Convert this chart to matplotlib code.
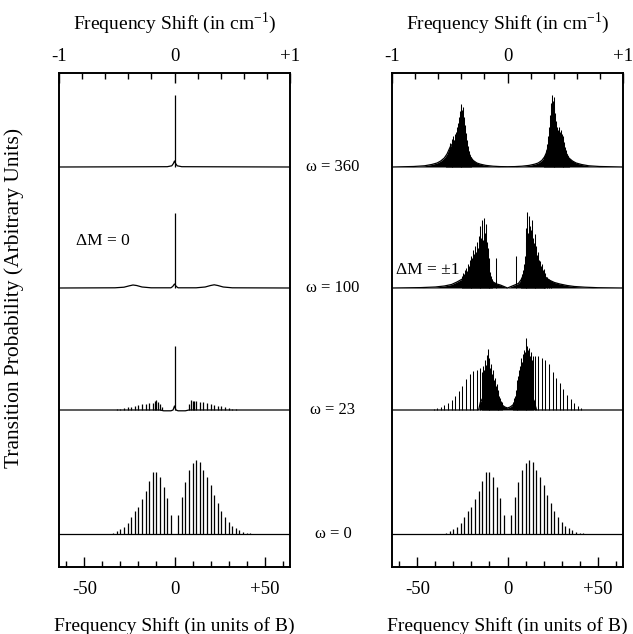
import numpy as np
import matplotlib
matplotlib.use('Agg')
import matplotlib.pyplot as plt

plt.rcParams['font.family'] = ['Liberation Serif', 'DejaVu Serif']
plt.rcParams['mathtext.fontset'] = 'custom'
plt.rcParams['mathtext.rm'] = 'Liberation Serif'

# ---------------- data (heights in arbitrary units, positions in units of B) -------------
omega_labels = ['ω = 0', 'ω = 23', 'ω = 100', 'ω = 360']
trace_offsets = [33, 157, 279, 400]

# omega = 0 : identical stick spectrum in both panels
w0_pos = [-34, -32, -30, -28, -26, -24, -22, -20, -18, -16, -14, -12, -10, -8, -6, -4, -2,
          2, 4, 6, 8, 10, 12, 14, 16, 18, 20, 22, 24, 26, 28, 30, 32, 34, 36, 38, 40, 42]
w0_h = [1.3, 3, 4.7, 7.3, 10.7, 16.7, 22.7, 27.3, 35, 42.7, 53, 62, 62, 56.7, 46.7, 36, 19,
        19, 37, 52, 64, 71, 74, 72, 64, 57, 49, 39, 31, 23, 17, 12, 8.3, 5.7, 4, 2.3, 1.3, 0.7]

# ----- left panel (Delta M = 0)
L23_pos = [-34, -32, -30, -28, -26, -24, -22, -20, -18, -16, -14, -12, -11, -10, -9, -8, -7,
           8, 9, 10, 11, 12, 14, 16, 18, 20, 22, 24, 26, 28, 30, 32, 34, 36]
L23_h = [0.5, 0.9, 1.4, 2, 2.8, 3.5, 4.3, 5, 5.8, 6.3, 6.8, 7.5, 9, 10, 8.5, 6, 3.5,
         6, 10, 9, 9.5, 9, 8.5, 8, 7, 6, 5.2, 4.5, 3.6, 2.8, 2, 1.4, 0.8, 0.4]
L23_base_x = [-64, -8, -6, -2, -0.8, 0, 0.8, 2, 6, 8, 64]
L23_base_y = [0, 0, -0.8, -0.8, 0, 4, 0, -0.8, -0.8, 0, 0]
L23_spike = [0, 64]

L100_base_x = [-64, -33, -28, -25, -23, -21, -18, -13, -2, -1, 0, 1, 2,
               12, 17, 20, 22, 24, 27, 32, 64]
L100_base_y = [0, 0.2, 0.8, 2.2, 3, 2.5, 1, 0.2, 0.2, 1.5, 4, 1.5, 0.2,
               0.2, 1, 2.5, 3.2, 2.5, 1, 0.2, 0]
L100_spike = [0, 75]

L360_base_x = [-64, -4, -1.5, -0.6, 0, 0.6, 1.5, 4, 64]
L360_base_y = [0, 0.3, 1.2, 3.5, 6, 3.5, 1.2, 0.3, 0]
L360_spike = [0.3, 72]

# ----- right panel (Delta M = +-1)
R23_body_x = [-64, -16, -15, -13, -11, -9, -7, -5, -3, -1.5, 0, 1.5, 3, 5, 7, 9, 11, 13, 15, 16, 64]
R23_body_y = [0, 0, 8, 14, 18, 18, 14, 9, 5, 3, 2, 3, 5, 10, 16, 20, 20, 16, 8, 0, 0]
R23_pos = [-41, -39, -37, -35, -33, -31, -29, -27, -25, -23, -21, -19, -17, -15,
           -14, -13.5, -13, -12.5, -12, -11.5, -11, -10.5, -10, -9.5, -9, -8.5, -8, -7.5, -7,
           -6.5, -6, -5.5, -5, -4.5, -4, -3.5, -3,
           3, 3.5, 4, 4.5, 5, 5.5, 6, 6.5, 7, 7.5, 8, 8.5, 9, 9.5, 10, 10.5, 11, 11.5, 12,
           12.5, 13, 13.5, 14,
           15, 17, 19, 21, 23, 25, 27, 29, 31, 33, 35, 37, 39, 41]
R23_h = [1, 2, 3, 5, 7, 10, 14, 19, 24, 31, 36, 39, 40, 42,
         38, 44, 40, 50, 45, 55, 61, 48, 52, 42, 46, 36, 40, 30, 32,
         24, 26, 18, 20, 14, 12, 9, 8,
         8, 12, 14, 20, 24, 30, 34, 40, 44, 52, 48, 56, 60, 58, 72, 55, 64, 60, 62,
         54, 58, 50, 54,
         54, 54, 52, 50, 46, 38, 32, 27, 21, 15, 11, 7, 4, 2]

R100_body_x = [-64, -48, -40, -35, -31, -28, -25, -23, -21, -19, -17, -15, -13, -11, -9, -8,
               -6, -4, -2, 0, 2, 4, 6, 7.5, 9, 11, 13, 15, 17, 19, 21, 23, 26, 29, 33, 37,
               43, 50, 64]
R100_body_y = [0, 0.4, 1, 2, 3.5, 6, 9, 13, 16, 18, 20, 22, 21, 16, 9, 6,
               4, 3, 1.5, 0, 1.5, 3, 4.5, 8, 14, 20, 23, 22, 19, 15, 11, 8, 5.5, 4, 2.5, 1.5,
               0.8, 0.3, 0]
R100_pos = [-25, -24.5, -24, -23.5, -23, -22.5, -22, -21.5, -21, -20.5, -20, -19.5, -19,
            -18.5, -18, -17.5, -17, -16.5, -16, -15.5, -15, -14.5, -14, -13.5, -13, -12.5,
            -12, -11.5, -11, -10.5, -10, -9.5, -9, -8.5, -6.5,
            4.5, 7.5, 8, 8.5, 9, 9.5, 10, 10.5, 11, 11.5, 12, 12.5, 13, 13.5, 14, 14.5, 15,
            15.5, 16, 16.5, 17, 17.5, 18, 18.5, 19, 19.5, 20, 20.5, 21, 22, 23, 24]
R100_h = [12, 15, 14, 18, 20, 17, 24, 22, 28, 25, 32, 30, 38,
          34, 42, 36, 46, 40, 52, 45, 62, 50, 68, 48, 70, 55,
          64, 46, 40, 30, 24, 16, 12, 9, 30,
          32, 10, 14, 18, 24, 32, 46, 60, 76, 55, 72, 62, 58, 68, 50, 45, 54,
          38, 42, 33, 36, 28, 27, 22, 24, 18, 19, 14, 15, 11, 9, 7]

R360_body_x = [-64, -52, -46, -42, -39, -37, -35, -33.5, -32.5, -31.5, -30.5, -29.5, -28.5,
               -27.5, -26.5, -25.5, -24.5, -23.5, -22.5, -21.5, -20.5, -19, -17, -15, -12, -8,
               -4, 0,
               4, 8, 12, 15, 17, 19, 20.5, 21.5, 22.5, 23.5, 24.5, 25.5, 26.5, 27.5, 28.5,
               29.5, 30.5, 31.5, 32.5, 34, 36, 38, 41, 45, 51, 64]
R360_body_y = [0, 0.5, 1.2, 2.5, 4, 6, 9, 13, 17, 21, 23, 25, 27,
               30, 33, 35, 33, 28, 21, 15, 10, 6.5, 4, 2.8, 1.6, 0.8,
               0.4, 0.3,
               0.4, 0.8, 1.6, 2.8, 4, 6.5, 10, 14, 20, 29, 37, 39, 35, 30, 27,
               25, 22, 18, 14, 9, 6, 4, 2.5, 1.2, 0.5, 0]
R360_pos = [-34, -33.5, -33, -32.5, -32, -31.5, -31, -30.5, -30, -29.5, -29, -28.5, -28,
            -27.5, -27, -26.5, -26, -25.5, -25, -24.5, -24, -23.5, -23, -22.5, -22, -21.5,
            -21, -20.5,
            20.5, 21, 21.5, 22, 22.5, 23, 23.5, 24, 24.5, 25, 25.5, 26, 26.5, 27, 27.5, 28,
            28.5, 29, 29.5, 30, 30.5, 31, 31.5, 32, 32.5, 33, 33.5, 34]
R360_h = [10, 12, 15, 18, 24, 20, 28, 26, 31, 27, 33, 35, 40,
          44, 50, 56, 61, 63, 57, 60, 50, 42, 34, 27, 21, 16,
          12, 10,
          11, 13, 17, 23, 31, 40, 52, 64, 72, 66, 70, 60, 54, 46, 40, 37,
          40, 35, 37, 33, 31, 27, 25, 20, 17, 13, 11, 9]

# ---------------- layout -------------
W, H = 633, 634
fig = plt.figure(figsize=(W / 100, H / 100), dpi=100)

def fx(px):
    return px / W

def fy(py):
    return 1 - py / H

top_px, bot_px = 73, 567
axL = fig.add_axes([fx(59), fy(bot_px), fx(290 - 59), (bot_px - top_px) / H])
axR = fig.add_axes([fx(392), fy(bot_px), fx(623 - 392), (bot_px - top_px) / H])

LW = 0.9
SLW = 0.75
FS = 13.5

def style(ax):
    ax.set_xlim(-64, 64)
    ax.set_ylim(0, bot_px - top_px)
    ax.set_yticks([])
    for s in ax.spines.values():
        s.set_linewidth(1.2)
    ax.set_xticks([-50, 0, 50])
    ax.set_xticklabels(['-50', '0', '+50'], fontsize=FS)
    ax.set_xticks(np.arange(-60, 61, 10), minor=True)
    ax.tick_params(axis='x', which='major', direction='in', length=7, width=1, pad=10)
    ax.tick_params(axis='x', which='minor', direction='in', length=4, width=1)
    top = ax.twiny()
    top.set_xlim(-1, 1)
    top.set_xticks([-1, 0, 1])
    top.set_xticklabels(['-1', '0', '+1'], fontsize=FS)
    top.set_xticks(np.arange(-0.8, 0.81, 0.2), minor=True)
    top.tick_params(axis='x', which='major', direction='in', length=7, width=1, pad=6)
    top.tick_params(axis='x', which='minor', direction='in', length=4, width=1)
    for s in top.spines.values():
        s.set_linewidth(1.2)

def sticks(ax, pos, h, off, lw=LW):
    ax.vlines(pos, off, off + np.asarray(h, float), color='k', lw=lw)

def line(ax, x, y, off, fill=False):
    y = np.asarray(y, float)
    if fill:
        ax.fill_between(x, off, off + y, color='k', lw=0)
    ax.plot(x, off + y, color='k', lw=LW)

style(axL)
style(axR)

o0, o23, o100, o360 = trace_offsets

# left
line(axL, [-64, 64], [0, 0], o0)
sticks(axL, w0_pos, w0_h, o0)
line(axL, L23_base_x, L23_base_y, o23)
sticks(axL, L23_pos, L23_h, o23)
sticks(axL, [L23_spike[0]], [L23_spike[1]], o23)
line(axL, L100_base_x, L100_base_y, o100)
sticks(axL, [L100_spike[0]], [L100_spike[1]], o100)
line(axL, L360_base_x, L360_base_y, o360)
sticks(axL, [L360_spike[0]], [L360_spike[1]], o360)

# right
line(axR, [-64, 64], [0, 0], o0)
sticks(axR, w0_pos, w0_h, o0)
line(axR, R23_body_x, R23_body_y, o23, fill=True)
sticks(axR, R23_pos, R23_h, o23, lw=SLW)
line(axR, R100_body_x, R100_body_y, o100, fill=True)
sticks(axR, R100_pos, R100_h, o100, lw=SLW)
line(axR, R360_body_x, R360_body_y, o360, fill=True)
sticks(axR, R360_pos, R360_h, o360, lw=SLW)

# texts
title = 'Frequency Shift (in cm$^{\\mathrm{-1}}$)'
fig.text(fx(174.5), fy(23), title, ha='center', va='center', fontsize=14)
fig.text(fx(507.5), fy(23), title, ha='center', va='center', fontsize=14)
fig.text(fx(174.5), fy(626), 'Frequency Shift (in units of B)', ha='center', va='center', fontsize=14)
fig.text(fx(507.5), fy(626), 'Frequency Shift (in units of B)', ha='center', va='center', fontsize=14)
fig.text(fx(14), fy(298), 'Transition Probability (Arbitrary Units)', rotation=90,
         ha='center', va='center', fontsize=15.5)

for lab, off in zip(omega_labels, trace_offsets):
    fig.text(fx(333), fy(bot_px - off), lab, ha='center', va='center', fontsize=12)

fig.text(fx(76), fy(241), 'ΔM = 0', ha='left', va='center', fontsize=12.5)
fig.text(fx(396), fy(270), 'ΔM = ±1', ha='left', va='center', fontsize=12.5)

fig.savefig('out.png', dpi=100)
